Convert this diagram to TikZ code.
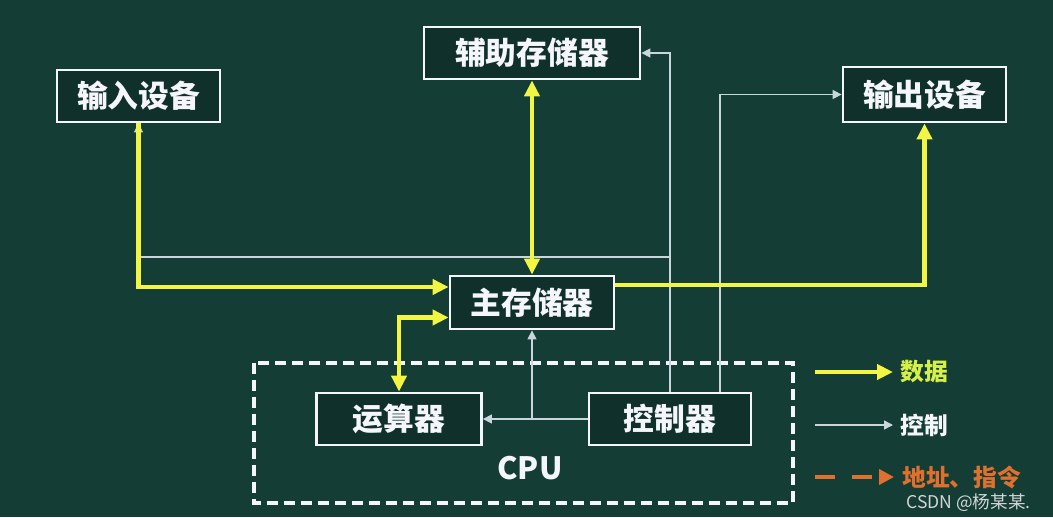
\documentclass[tikz,border=0pt]{standalone}
\usepackage{fontspec}
\usepackage{xcolor}
\usepackage{tikz}
\usetikzlibrary{arrows.meta}
\newfontfamily\cjk{Noto Sans CJK SC}
\definecolor{CPBack}{HTML}{143D35}
\definecolor{CPBox}{HTML}{10302B}
\definecolor{CPWhite}{HTML}{F4F6FC}
\definecolor{CPYellow}{HTML}{F2F542}
\definecolor{CPLime}{HTML}{D6F04A}
\definecolor{CPThin}{HTML}{C9D6DC}
\definecolor{CPOrange}{HTML}{E0702E}
\definecolor{CPGrey}{HTML}{D2D6D4}

\tikzset{
  unit/.style={draw=CPWhite,line width=1.6pt,fill=CPBox,text=CPWhite,inner sep=0pt,
    minimum height=1.04cm,font=\cjk\bfseries\fontsize{17.5}{20}\selectfont},
  data/.style={CPYellow,line width=2.4pt,>={Triangle[length=0.32cm,width=0.3cm]}},
  ctrl/.style={CPThin,line width=0.8pt,>={Triangle[length=0.18cm,width=0.18cm]}},
  addr/.style={CPOrange,line width=2.4pt,dash pattern=on 0.4cm off 0.34cm,
    >={Triangle[length=0.3cm,width=0.3cm]}},
  legend/.style={anchor=west,inner sep=0pt,font=\cjk\bfseries\fontsize{13.5}{16}\selectfont},
}

\begin{document}
\begin{tikzpicture}[x=0.02cm,y=-0.02cm]
\path[use as bounding box] (0,0) rectangle (1053,517);
\fill[CPBack] (0,0) rectangle (1053,517);
% CPU frame
\draw[CPWhite,line width=1.9pt,dash pattern=on 0.22cm off 0.12cm] (254,363) rectangle (793,503);
\node[text=CPWhite,font=\cjk\bfseries\fontsize{17.5}{20}\selectfont] (cpu) at (530,468) {CPU};
% units
\node[unit,minimum width=3.26cm] (in) at (138.5,96) {输入设备};
\node[unit,minimum width=4.32cm] (aux) at (532,53) {辅助存储器};
\node[unit,minimum width=3.26cm,minimum height=1.1cm] (out) at (924.5,94.5) {输出设备};
\node[unit,minimum width=3.28cm,minimum height=1.06cm] (main) at (532,302.5) {主存储器};
\node[unit,minimum width=3.3cm] (alu) at (399,419) {运算器};
\node[unit,minimum width=3.24cm] (cu) at (670,419) {控制器};
% control lines
\coordinate (bus) at (670,257);
\draw[ctrl,->] (cu.north) |- (aux.east);
\draw[ctrl,->] (bus) -| (in.south);
\draw[ctrl,->] ([xshift=1cm]cu.north) |- (out.west);
\draw[ctrl,->] (cu.west) -- (alu.east);
\draw[ctrl,->] (main.south |- cu.west) -- (main.south);
% data lines
\draw[data,->] (in.south) |- ([yshift=0.31cm]main.west);
\draw[data,<->] (aux.south) -- (main.north);
\draw[data,->] ([yshift=0.35cm]main.east) -| (out.south);
\draw[data,<->] ([yshift=-0.3cm]main.west) -| (alu.north);
% legend
\node[legend,text=CPLime] (lgdata) at (900,372) {数据};
\node[legend,text=CPWhite] (lgctrl) at (900,425) {控制};
\node[legend,text=CPOrange] (lgaddr) at (902,477) {地址、指令};
\coordinate (ldata) at (815,372);
\coordinate (lctrl) at (815,425);
\coordinate (laddr) at (815,477);
\draw[data,->] (ldata) -- ([xshift=-0.14cm]lgdata.west);
\draw[ctrl,->] (lctrl) -- ([xshift=-0.14cm]lgctrl.west);
\draw[addr,->] (laddr) -- ([xshift=-0.16cm]lgaddr.west);
\node[anchor=west,inner sep=0pt,text=CPGrey,font=\cjk\fontsize{10}{12}\selectfont] (mark) at (906,503) {CSDN @杨某某.};
\end{tikzpicture}
\end{document}
